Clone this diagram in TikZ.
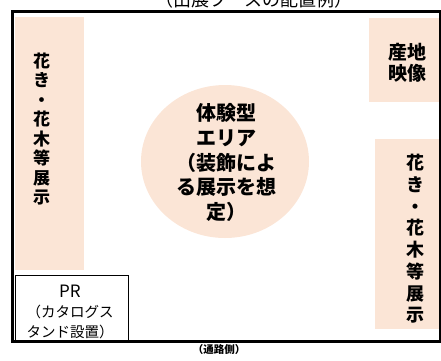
\documentclass[tikz,border=0pt]{standalone}
\usepackage{fontspec}
\usepackage{xcolor}
\newfontfamily\jp{Noto Sans CJK JP}
\definecolor{boothpink}{HTML}{FBE5D6}
\tikzset{
  panel/.style={fill=boothpink},
  tate/.style={font=\jp\bfseries\fontsize{17}{19.5}\selectfont, align=center, inner sep=0pt},
  prbox/.style={draw, fill=white, line width=0.8pt},
}

\begin{document}
\begin{tikzpicture}[x=1pt,y=-1pt]
    \useasboundingbox (0,0) rectangle (441,360);
    \node[font=\jp\fontsize{18}{20}\selectfont, anchor=base, inner sep=0pt] (title) at (254,6) {（出展ブースの配置例）};
    \fill[panel] (15,17) rectangle (84,270);
    \fill[panel] (369,18) rectangle (441,102);
    \fill[panel] (375,139) rectangle (441,329);
    \fill[panel] (225,161.5) ellipse [x radius=84, y radius=76.5];
    \node[tate] (hanaL) at (41.5,129) {花\\き\\・\\花\\木\\等\\展\\示};
    \node[tate, font=\jp\bfseries\fontsize{18}{21.7}\selectfont] (hanaR) at (415,239) {花\\き\\・\\花\\木\\等\\展\\示};
    \node[tate, font=\jp\bfseries\fontsize{19}{21}\selectfont] (eizo) at (407,62.5) {産地\\映像};
    \node[tate, font=\jp\bfseries\fontsize{20}{24.7}\selectfont] (taiken) at (226,162.5) {体験型\\エリア\\（装飾によ\\る展示を想\\定）};
    \draw[prbox] (15,275) rectangle (128,342);
    \node[align=center, inner sep=0pt, font=\jp\fontsize{14.5}{20}\selectfont] (pr) at (70,312) {{\fontsize{17}{20}\selectfont PR}\\（カタログス\\タンド設置）};
    \draw[line width=3pt] (12,11) rectangle (440,341.5);
    \node[font=\jp\bfseries\fontsize{10.5}{12}\selectfont, inner sep=0pt] (tsuro) at (219,349.5) {（通路側）};
\end{tikzpicture}
\end{document}
